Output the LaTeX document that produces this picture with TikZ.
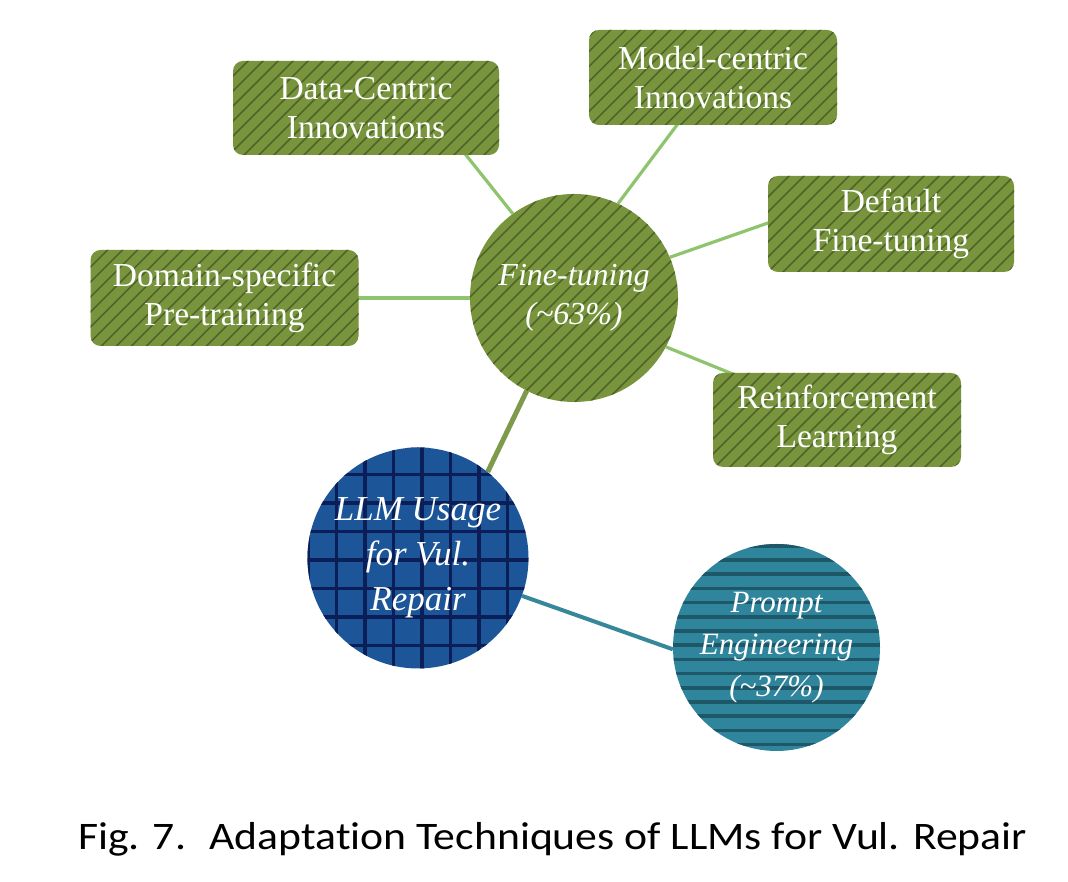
\documentclass[tikz,border=0pt]{standalone}
\usepackage{fontspec}
\setmainfont{Liberation Serif}
\newfontfamily\capfont[FakeStretch=1.12,Ligatures=CommonOff]{Carlito}
\usetikzlibrary{backgrounds,calc}
\definecolor{ftgreen}{RGB}{120,149,62}
\definecolor{ftstripe}{RGB}{78,100,40}
\definecolor{llmblue}{RGB}{28,86,152}
\definecolor{llmgrid}{RGB}{12,30,88}
\definecolor{ptteal}{RGB}{47,133,155}
\definecolor{ptstripe}{RGB}{30,88,104}
\definecolor{linklight}{RGB}{143,196,111}
\definecolor{linkolive}{RGB}{125,155,75}
\definecolor{linkteal}{RGB}{55,135,155}
\tikzset{
  greenpat/.style={fill=ftgreen, path picture={
    \foreach \k in {-20,...,20}{
      \draw[line width=1.7pt,ftstripe] ($(path picture bounding box.center)+(\k*15-220,-220)$) -- ++(440,440);}}},
  gridpat/.style={fill=llmblue, path picture={
    \foreach \k in {-5,...,5}{
      \draw[line width=3.5pt,llmgrid] ($(path picture bounding box.center)+(4.2+\k*28.5,-130)$) -- ++(0,260);
      \draw[line width=3.5pt,llmgrid] ($(path picture bounding box.center)+(-130,-1.8+\k*28.5)$) -- ++(260,0);}}},
  hstripepat/.style={fill=ptteal, path picture={
    \foreach \k in {-8,...,8}{
      \draw[line width=3.5pt,ptstripe] ($(path picture bounding box.center)+(-120,2.3+\k*14.2)$) -- ++(240,0);}}},
  leafbox/.style={greenpat, rounded corners=10pt, inner sep=0pt, text=white, align=center,
    font=\fontsize{33.5}{39}\selectfont},
  hub/.style={circle, inner sep=0pt, text=white, align=center},
  lightlink/.style={linklight, line width=3.2pt},
}
\begin{document}
\begin{tikzpicture}[x=1pt,y=1pt]
\useasboundingbox (0,0) rectangle (1068,882);

\node[hub, greenpat, minimum size=208pt, font=\itshape\fontsize{32}{39}\selectfont] (ft) at (574,584) {Fine-tuning\\(\textasciitilde63\%)};
\node[hub, gridpat, minimum size=221pt, font=\itshape\fontsize{35}{45}\selectfont] (llm) at (418,324) {LLM Usage\\for Vul.\\Repair};
\node[hub, hstripepat, minimum size=207pt, font=\itshape\fontsize{31}{42}\selectfont] (pe) at (776.5,234.5) {Prompt\\Engineering\\(\textasciitilde37\%)};

\node[leafbox, minimum width=268pt, minimum height=96pt] (dom) at (224.5,584) {Domain-specific\\Pre-training};
\node[leafbox, minimum width=266pt, minimum height=94pt] (data) at (366,774) {Data-Centric\\Innovations};
\node[leafbox, minimum width=248pt, minimum height=95pt] (model) at (713,804.5) {Model-centric\\Innovations};
\node[leafbox, minimum width=246pt, minimum height=96pt] (def) at (891,658) {Default\\Fine-tuning};
\node[leafbox, minimum width=248pt, minimum height=94pt] (rl) at (837,462) {Reinforcement\\Learning};

\coordinate (dataend) at (462,732);
\coordinate (modelend) at (683,765);
\coordinate (defend) at (778,662.5);
\coordinate (rlend) at (740,505);

\begin{pgfonlayer}{background}
\fill[white] (0,0) rectangle (1068,882);
\draw[lightlink] (ft.180) -- ($(dom.east)+(-8,0)$);
\draw[lightlink] (ft.126.8) -- (dataend);
\draw[lightlink] (ft.65.6) -- (modelend);
\draw[lightlink] (ft.23) -- (defend);
\draw[lightlink] (ft.-28) -- (rlend);
\draw[linkolive, line width=5pt] (ft.-117) -- (llm.51.6);
\draw[linkteal, line width=4pt] (llm.-20) -- (pe.181);
\end{pgfonlayer}

\node[anchor=base west, inner sep=0pt, font=\capfont\fontsize{39}{47}\selectfont] (cap) at (78,32)
  {Fig. 7.\hspace{0.6em}Adaptation Techniques of LLMs for Vul. Repair};
\end{tikzpicture}
\end{document}
